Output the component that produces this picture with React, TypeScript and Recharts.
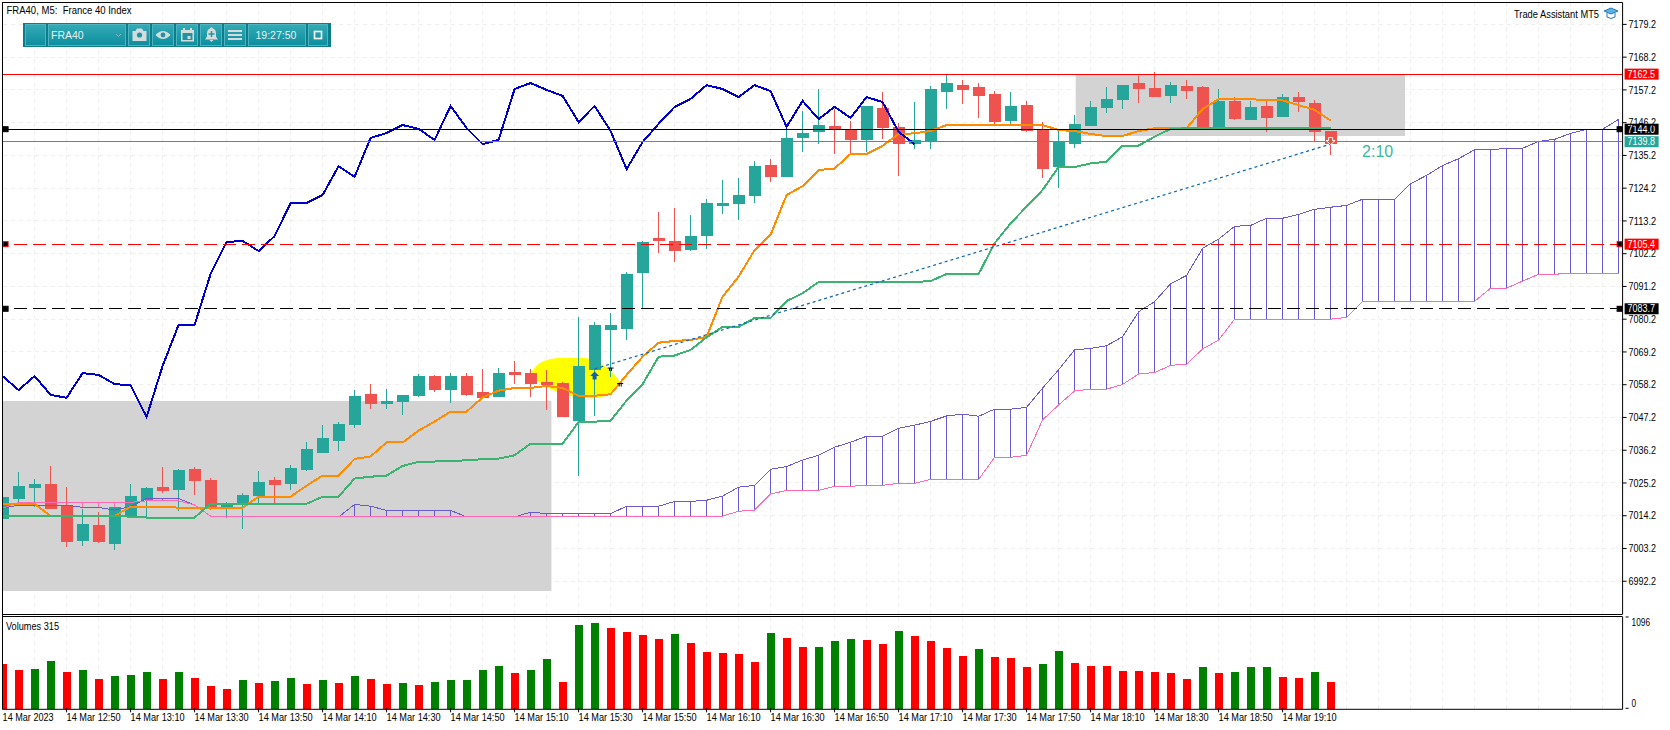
import React from 'react';
import {
    ComposedChart,
    Bar,
    Line,
    XAxis,
    YAxis,
    CartesianGrid,
    ReferenceArea,
    ReferenceDot,
    ReferenceLine
} from 'recharts';

// FRA40 M5 bars, one entry per 5 minutes starting 12:30
const opens = [
    7013.2, 7019.9, 7023.6, 7024.9, 7017.8, 7005.8, 7011.1, 7004.8, 7014.1, 7019.5,
    7023.9, 7022.9, 7029.9, 7026.2, 7017.1, 7018.2, 7020.8, 7026.2, 7024.9, 7029.6,
    7035.3, 7039.3, 7044.7, 7055.1, 7051.7, 7052.4, 7054.4, 7061.1, 7056.4, 7061.1,
    7055.8, 7054.1, 7062.5, 7062.1, 7059.1, 7058.8, 7046.0, 7063.2, 7076.6, 7076.9,
    7095.7, 7107.5, 7106.5, 7103.4, 7108.1, 7118.2, 7118.9, 7121.6, 7132.0, 7128.0,
    7141.1, 7143.1, 7145.1, 7143.7, 7140.4, 7151.1, 7144.8, 7139.0, 7140.0, 7156.5,
    7158.8, 7158.2, 7155.8, 7146.8, 7152.1, 7144.1, 7131.3, 7139.0, 7145.1, 7151.1,
    7153.8, 7159.5, 7157.8, 7155.2, 7158.5, 7158.2, 7144.8, 7153.5, 7147.1, 7151.8,
    7148.1, 7154.8, 7152.8, 7143.4
];
const highs = [
    7021.2, 7028.9, 7026.6, 7030.9, 7024.0, 7016.5, 7015.4, 7017.1, 7024.9, 7024.0,
    7030.4, 7029.8, 7030.6, 7026.9, 7018.8, 7021.9, 7029.2, 7027.2, 7031.2, 7039.0,
    7044.7, 7045.7, 7056.4, 7058.4, 7056.8, 7054.9, 7061.8, 7061.5, 7062.1, 7062.1,
    7063.5, 7063.8, 7066.2, 7063.4, 7063.1, 7059.0, 7080.9, 7079.3, 7082.3, 7096.1,
    7106.5, 7116.2, 7117.6, 7115.2, 7120.6, 7126.9, 7127.6, 7133.3, 7134.0, 7144.4,
    7150.1, 7157.5, 7150.8, 7146.8, 7151.9, 7156.5, 7146.1, 7153.1, 7158.5, 7162.2,
    7160.5, 7159.5, 7156.8, 7156.5, 7153.5, 7146.4, 7143.7, 7148.8, 7153.5, 7158.2,
    7158.9, 7161.9, 7163.2, 7159.9, 7160.5, 7158.5, 7157.5, 7154.8, 7153.5, 7153.8,
    7155.8, 7156.5, 7153.8, 7143.5
];
const lows = [
    7012.8, 7018.4, 7017.3, 7016.4, 7003.8, 7004.2, 7005.2, 7002.8, 7013.3, 7013.0,
    7021.9, 7015.9, 7021.2, 7016.1, 7013.6, 7009.9, 7017.8, 7018.5, 7022.9, 7029.2,
    7035.2, 7036.0, 7043.7, 7050.1, 7050.1, 7048.0, 7054.1, 7055.8, 7052.1, 7054.4,
    7053.4, 7054.0, 7058.4, 7054.1, 7049.7, 7047.3, 7027.6, 7047.7, 7060.8, 7073.2,
    7083.6, 7102.4, 7099.4, 7103.1, 7103.8, 7115.5, 7113.5, 7119.2, 7126.3, 7127.9,
    7136.4, 7139.0, 7135.7, 7135.7, 7136.4, 7140.7, 7128.3, 7137.4, 7137.4, 7150.8,
    7152.5, 7147.8, 7145.8, 7145.8, 7143.1, 7127.6, 7124.3, 7137.7, 7145.0, 7149.5,
    7150.8, 7152.8, 7154.7, 7152.8, 7154.2, 7144.4, 7144.7, 7147.1, 7147.0, 7143.1,
    7148.0, 7149.8, 7140.0, 7135.4
];
const closes = [
    7020.5, 7024.2, 7024.9, 7016.6, 7005.5, 7011.4, 7005.4, 7017.1, 7020.8, 7023.5,
    7022.5, 7029.6, 7025.9, 7017.0, 7018.5, 7021.2, 7025.5, 7024.5, 7030.2, 7036.6,
    7040.3, 7045.0, 7054.4, 7051.7, 7052.7, 7054.8, 7061.1, 7056.4, 7061.1, 7054.8,
    7053.8, 7062.1, 7061.5, 7058.4, 7058.0, 7047.4, 7064.5, 7078.3, 7078.3, 7095.4,
    7106.1, 7106.5, 7103.1, 7108.1, 7119.2, 7119.2, 7121.9, 7131.6, 7128.0, 7141.1,
    7142.7, 7145.4, 7144.1, 7140.4, 7151.8, 7144.4, 7139.0, 7140.4, 7157.5, 7159.5,
    7157.2, 7155.2, 7146.4, 7151.8, 7143.4, 7130.6, 7139.7, 7145.8, 7151.5, 7154.2,
    7158.8, 7157.5, 7154.8, 7158.8, 7156.8, 7144.8, 7153.5, 7147.4, 7151.5, 7147.8,
    7154.8, 7153.1, 7143.1, 7139.0
];

// ichimoku lines
const tenkan = [
    7018.2, 7018.2, 7018.2, 7014.1, 7014.1, 7014.1, 7014.1, 7014.1, 7017.3, 7017.3,
    7017.3, 7016.9, 7016.9, 7016.9, 7016.9, 7016.9, 7020.6, 7020.6, 7020.6, 7024.3,
    7027.7, 7027.7, 7033.3, 7034.1, 7038.8, 7038.8, 7042.8, 7045.8, 7049.2, 7049.2,
    7053.9, 7056.2, 7057.1, 7057.1, 7057.8, 7057.1, 7054.5, 7054.5, 7055.0, 7061.5,
    7067.6, 7072.3, 7072.9, 7073.2, 7074.3, 7087.8, 7094.5, 7103.4, 7108.6, 7121.9,
    7124.9, 7130.3, 7130.8, 7135.7, 7135.7, 7138.4, 7142.4, 7142.6, 7143.4, 7145.4,
    7145.4, 7145.4, 7145.4, 7145.4, 7145.4, 7145.4, 7143.7, 7143.4, 7142.4, 7141.7,
    7141.7, 7143.4, 7144.3, 7144.3, 7144.3, 7150.8, 7154.1, 7154.1, 7154.1, 7153.7,
    7153.7, 7152.1, 7150.5, 7146.9
];
const kijun = [
    7014.1, 7014.1, 7014.1, 7014.1, 7014.1, 7014.1, 7014.1, 7014.1, 7013.9, 7013.6,
    7013.6, 7013.6, 7013.6, 7018.2, 7018.2, 7018.2, 7018.2, 7018.2, 7018.2, 7018.2,
    7020.6, 7020.6, 7026.7, 7027.3, 7027.7, 7030.9, 7032.3, 7032.4, 7032.6, 7032.8,
    7033.2, 7033.4, 7034.5, 7038.4, 7038.4, 7038.4, 7045.7, 7045.8, 7046.1, 7052.9,
    7058.4, 7067.6, 7068.0, 7069.9, 7074.1, 7077.6, 7077.6, 7080.6, 7080.6, 7086.3,
    7088.9, 7092.7, 7092.7, 7092.7, 7092.7, 7092.7, 7092.7, 7092.7, 7093.0, 7095.4,
    7095.4, 7095.4, 7105.7, 7112.4, 7118.0, 7123.6, 7131.3, 7131.3, 7132.5, 7133.1,
    7138.5, 7138.5, 7141.5, 7144.1, 7144.3, 7144.3, 7144.3, 7144.3, 7144.3, 7144.3,
    7144.3, 7144.3, 7144.3, 7144.3
];
const chikou = [
    7061.1, 7056.4, 7061.1, 7054.8, 7053.8, 7062.1, 7061.5, 7058.4, 7058.0, 7047.4,
    7064.5, 7078.3, 7078.3, 7095.4, 7106.1, 7106.5, 7103.1, 7108.1, 7119.2, 7119.2,
    7121.9, 7131.6, 7128.0, 7141.1, 7142.7, 7145.4, 7144.1, 7140.4, 7151.8, 7144.4,
    7139.0, 7140.4, 7157.5, 7159.5, 7157.2, 7155.2, 7146.4, 7151.8, 7143.4, 7130.6,
    7139.7, 7145.8, 7151.5, 7154.2, 7158.8, 7157.5, 7154.8, 7158.8, 7156.8, 7144.8,
    7153.5, 7147.4, 7151.5, 7147.8, 7154.8, 7153.1, 7143.1, 7139.0
];
const senkouA = [
    7016.7, 7017.8, 7017.8, 7017.8, 7017.8, 7017.0, 7017.0, 7016.1, 7017.3, 7020.0,
    7020.0, 7020.0, 7017.8, 7014.1, 7014.1, 7014.1, 7014.1, 7014.1, 7013.8, 7013.8,
    7013.8, 7013.8, 7018.0, 7017.4, 7016.0, 7016.0, 7016.0, 7016.0, 7016.0, 7013.8,
    7013.8, 7013.8, 7013.8, 7015.4, 7014.9, 7014.9, 7014.9, 7014.9, 7014.9, 7017.4,
    7017.4, 7017.4, 7019.0, 7019.0, 7019.4, 7020.8, 7023.8, 7024.4, 7029.8, 7030.7,
    7032.9, 7034.5, 7037.2, 7038.9, 7040.9, 7040.9, 7043.6, 7044.6, 7045.9, 7047.7,
    7048.3, 7047.6, 7050.0, 7050.0, 7050.6, 7057.1, 7063.2, 7069.9, 7070.4, 7071.3,
    7074.3, 7082.7, 7086.1, 7092.1, 7094.9, 7104.0, 7107.1, 7111.4, 7111.7, 7114.1,
    7114.1, 7115.4, 7117.1, 7117.8, 7118.4, 7120.5, 7120.5, 7120.5, 7125.7, 7128.5,
    7131.8, 7134.1, 7137.1, 7137.1, 7137.6, 7137.6, 7139.9, 7140.6, 7142.6, 7144.0,
    7144.0, 7147.3
];
const senkouB = [
    7016.7, 7018.7, 7018.7, 7018.7, 7018.7, 7018.7, 7018.7, 7018.7, 7018.7, 7019.2,
    7019.2, 7019.2, 7017.8, 7014.1, 7014.1, 7014.1, 7014.1, 7014.1, 7014.1, 7014.1,
    7014.1, 7014.1, 7014.1, 7014.1, 7014.1, 7014.1, 7014.1, 7014.1, 7014.1, 7014.1,
    7014.1, 7014.1, 7014.1, 7014.1, 7014.1, 7014.1, 7014.1, 7014.1, 7014.1, 7014.1,
    7014.1, 7014.1, 7014.1, 7014.1, 7014.1, 7014.1, 7015.7, 7016.1, 7021.5, 7022.7,
    7022.7, 7022.7, 7024.1, 7024.1, 7024.4, 7024.4, 7025.1, 7025.1, 7026.4, 7026.4,
    7026.4, 7026.4, 7033.8, 7033.8, 7034.5, 7046.4, 7051.4, 7056.1, 7056.7, 7056.7,
    7058.3, 7061.8, 7062.3, 7064.7, 7065.1, 7070.2, 7073.2, 7080.2, 7080.2, 7080.2,
    7080.2, 7080.2, 7080.2, 7080.2, 7080.8, 7086.2, 7086.2, 7086.2, 7086.2, 7086.2,
    7086.2, 7086.2, 7086.2, 7090.6, 7090.6, 7093.0, 7095.3, 7095.3, 7095.6, 7095.6,
    7095.6, 7095.6
];

const volumes = [
    576, 499, 512, 614, 474, 499, 385, 423, 436, 474,
    385, 474, 398, 296, 258, 372, 334, 360, 398, 322,
    372, 334, 423, 385, 322, 334, 309, 347, 372, 374,
    499, 550, 461, 499, 639, 347, 1071, 1096, 1033, 982,
    944, 893, 956, 842, 728, 715, 703, 601, 969, 906,
    791, 792, 868, 893, 880, 829, 995, 931, 868, 779,
    677, 766, 664, 652, 537, 576, 741, 588, 550, 549,
    487, 486, 474, 461, 385, 537, 461, 474, 537, 538,
    410, 398, 474, 347
];
const volumeUp = [
    0, 0, 1, 1, 0, 1, 0, 1, 1, 1,
    0, 1, 0, 0, 0, 1, 0, 1, 1, 0,
    1, 0, 1, 0, 0, 1, 0, 1, 1, 1,
    1, 1, 0, 1, 1, 0, 1, 1, 0, 0,
    0, 0, 1, 0, 0, 0, 0, 0, 1, 0,
    0, 1, 1, 1, 0, 0, 1, 0, 0, 0,
    0, 1, 0, 0, 0, 1, 1, 0, 0, 0,
    0, 0, 0, 0, 0, 1, 0, 1, 1, 1,
    0, 0, 1, 0
];

const priceTicks = [
    7179.2, 7168.2, 7157.2, 7146.2, 7135.2, 7124.2, 7113.2, 7102.2, 7091.2,
    7080.2, 7069.2, 7058.2, 7047.2, 7036.2, 7025.2, 7014.2, 7003.2, 6992.2
];
const timeTicks = [0, 4, 8, 12, 16, 20, 24, 28, 32, 36, 40, 44, 48, 52, 56, 60, 64, 68, 72, 76, 80];
const timeLabels = [
    '14 Mar 2023', '14 Mar 12:50', '14 Mar 13:10', '14 Mar 13:30', '14 Mar 13:50', '14 Mar 14:10', '14 Mar 14:30',
    '14 Mar 14:50', '14 Mar 15:10', '14 Mar 15:30', '14 Mar 15:50', '14 Mar 16:10', '14 Mar 16:30', '14 Mar 16:50',
    '14 Mar 17:10', '14 Mar 17:30', '14 Mar 17:50', '14 Mar 18:10', '14 Mar 18:30', '14 Mar 18:50', '14 Mar 19:10'
];
const gridBars = [
    2, 4, 6, 8, 10, 12, 14, 16, 18, 20, 22, 24, 26, 28, 30, 32, 34, 36, 38, 40, 42, 44, 46, 48, 50,
    52, 54, 56, 58, 60, 62, 64, 66, 68, 70, 72, 74, 76, 78, 80, 82, 84, 86, 88, 90, 92, 94, 96, 98, 100
];

const chartData = senkouA.map((a, i) => ({
    bar: i,
    range: lows[i] === undefined ? undefined : [lows[i], highs[i]],
    open: opens[i],
    close: closes[i],
    tenkan: tenkan[i],
    kijun: kijun[i],
    chikou: chikou[i],
    senkouA: a,
    senkouB: senkouB[i],
    cloud: [Math.min(a, senkouB[i]), Math.max(a, senkouB[i])],
    volume: volumes[i],
    up: volumeUp[i]
}));

const FONT = '"Liberation Sans", Arial, sans-serif';
const BAR_DOMAIN: [number, number] = [0, 101.25];
const TEAL = '#26a69a';
const RED = '#ef5350';
const CRISP = 'crispEdges';

// the terminal font is narrow, so text is squeezed to the measured width
const Squeezed = ({ x, y, w, fill = '#000', size = 10.4, children }: any) => (
    <text x={x} y={y} fill={fill} fontSize={size} fontFamily={FONT} textLength={w} lengthAdjust="spacingAndGlyphs" xmlSpace="preserve">
        {children}
    </text>
);

const CandleShape = (props: any) => {
    const { x, y, width, height, payload } = props;
    if (payload.open === undefined) return null;
    const { open, close, range } = payload;
    const perUnit = height / (range[1] - range[0] || 1);
    const yOpen = y + (range[1] - open) * perUnit;
    const yClose = y + (range[1] - close) * perUnit;
    const color = close >= open ? TEAL : RED;
    const cx = x + width / 2;
    return (
        <g shapeRendering={CRISP}>
            <line x1={cx} x2={cx} y1={y} y2={y + height} stroke={color} strokeWidth={1} />
            <rect x={x} y={Math.min(yOpen, yClose)} width={width} height={Math.max(Math.abs(yOpen - yClose), 1)} fill={color} />
        </g>
    );
};

const HatchShape = (props: any) => {
    const { x, y, width, height, payload } = props;
    const color = payload.senkouA >= payload.senkouB ? '#6a5acd' : '#ff69b4';
    const cx = x + width / 2;
    return <line x1={cx} x2={cx} y1={y} y2={y + height} stroke={color} strokeWidth={1} shapeRendering={CRISP} />;
};

const VolumeShape = (props: any) => {
    const { x, y, width, height, payload } = props;
    return <rect x={x} y={y} width={width} height={height} fill={payload.up ? '#008000' : '#ff0000'} shapeRendering={CRISP} />;
};

// price box on the right scale plus the little squares on the line ends
const priceTag = (text: string, bg: string, marker?: string) => (props: any) => {
    const { x, y, width } = props.viewBox;
    const right = x + width;
    return (
        <g>
            {marker && <rect x={x + 0.5} y={y - 2.5} width={5} height={5} fill={marker} stroke={bg} />}
            {marker && <rect x={right - 5.5} y={y - 2.5} width={5} height={5} fill={marker} stroke={bg} />}
            <rect x={right + 2} y={y - 5.5} width={34} height={11} fill={bg} />
            <Squeezed x={right + 5} y={y + 3.7} w={27.5} fill="#fff">{text}</Squeezed>
        </g>
    );
};

const PriceTick = (props: any) => {
    const { x, y, payload } = props;
    return <Squeezed x={x + 1} y={y + 3.7} w={27.5}>{payload.value.toFixed(1)}</Squeezed>;
};

const BlobMark = (props: any) => {
    const { x, y, width: w, height: h } = props;
    const p = (px: number, py: number) => `${x + px * w} ${y + py * h}`;
    const d = `M${p(0, 0.32)} C${p(0.08, 0.05)} ${p(0.2, 0)} ${p(0.35, 0)} L${p(0.6, 0)} C${p(0.8, 0.05)} ${p(0.95, 0.4)} ${p(1, 0.6)}`
        + ` C${p(0.95, 0.85)} ${p(0.8, 1)} ${p(0.68, 0.98)} C${p(0.5, 1)} ${p(0.25, 0.85)} ${p(0.1, 0.62)} C${p(0.03, 0.52)} ${p(0, 0.42)} ${p(0, 0.32)} Z`;
    return <path d={d} fill="#ffff00" />;
};

const UpArrow = (props: any) => (
    <path d={`M${props.cx} ${props.cy - 4.5} l4.5 4.5 h-2.5 v3.5 h-4 v-3.5 h-2.5 z`} fill="#0a64b4" />
);

const DownArrow = (props: any) => (
    <path d={`M${props.cx} ${props.cy + 4} l-4.5 -4 h2.5 v-3 h4 v3 h2.5 z`} fill="#e8502a" stroke="#fff" strokeWidth={1} />
);

const TradeTick = (props: any) => (
    <path d={`M${props.cx - 3} ${props.cy} h6 M${props.cx - 1} ${props.cy} v3 M${props.cx + 1} ${props.cy} v3`} stroke="#000" fill="none" />
);

const VolumeTick = (props: any) => {
    const { x, y, payload } = props;
    const zero = payload.value === 0;
    return (
        <g>
            <line x1={x - 5} x2={x - 2} y1={zero ? y - 1 : y - 6} y2={zero ? y - 1 : y - 6} stroke="#000" />
            <Squeezed x={x + 1} y={zero ? y - 2 : y + 3.2} w={zero ? 4.6 : 18.5}>{payload.value}</Squeezed>
        </g>
    );
};

const TimeTick = (props: any) => {
    const { x, y, payload } = props;
    const label = timeLabels[timeTicks.indexOf(payload.value)];
    return (
        <g>
            {payload.value > 0 && <line x1={x} x2={x} y1={y - 9} y2={y - 5} stroke="#000" />}
            <Squeezed x={x} y={y + 4} w={payload.value === 0 ? 51 : 54}>{label}</Squeezed>
        </g>
    );
};

const toolCells = [
    { x: 25, w: 21 }, { x: 48, w: 78 }, { x: 128, w: 22 }, { x: 152, w: 22 },
    { x: 176, w: 22 }, { x: 200, w: 22 }, { x: 224, w: 22 }, { x: 248, w: 58 }, { x: 308, w: 20 }
];

const Toolbar: React.FC = () => (
    <svg style={{ position: 'absolute', left: 23, top: 23, pointerEvents: 'none' }} width={308} height={24} fontFamily={FONT}>
        <defs>
            <linearGradient id="tb" x1="0" y1="0" x2="0" y2="1">
                <stop offset="0" stopColor="#35aab6" />
                <stop offset="1" stopColor="#0c8e9e" />
            </linearGradient>
        </defs>
        <rect width={308} height={24} fill="#0f7c8a" />
        {toolCells.map((c) => (
            <rect key={c.x} x={c.x - 23 + 0.5} y={1.5} width={c.w - 1} height={21} fill="url(#tb)" stroke="#4db5c0" />
        ))}
        <text x={28} y={16} fill="#e4f2f3" fontSize={10.5}>FRA40</text>
        <path d="M93 11 l2.5 2.5 l2.5 -2.5" fill="none" stroke="#7fbcc4" />
        <g fill="#d4dcdc">
            <path d="M109.5 8 h3 l1.5 -2.5 h5 l1.5 2.5 h3 v10 h-14 z" />
            <path d="M132.5 12 q7.5 -8 15 0 q-7.5 8 -15 0 z" />
            <path d="M158 7 h2 v-2 h2 v2 h5 v-2 h2 v2 h2 v11.5 h-13 z" />
            <path d="M188.5 4 l1.5 1.5 q3 1 3 5 v3 l2 3 h-13 l2 -3 v-3 q0 -4 3 -5 z M186.5 17 h4 l-2 2 z" />
            <rect x={205} y={7} width={14} height={2} />
            <rect x={205} y={11} width={14} height={2} />
            <rect x={205} y={15} width={14} height={2} />
        </g>
        <circle cx={116.5} cy={12} r={2.6} fill="#1f95a3" />
        <circle cx={140} cy={12} r={2.4} fill="#1f95a3" />
        <rect x={159.5} y={10} width={10} height={7} fill="#1f95a3" />
        <rect x={164.5} y={13} width={3} height={3} fill="#d4dcdc" />
        <path d="M188.5 8 v6 M185.5 11 h6" stroke="#1f95a3" strokeWidth={1.5} />
        <text x={232.5} y={16} fill="#e4f2f3" fontSize={10.5}>19:27:50</text>
        <rect x={291.5} y={8.5} width={7} height={7} fill="none" stroke="#fff" strokeWidth={1.6} />
    </svg>
);

const App: React.FC = () => {
    return (
        <div style={{ position: 'absolute', left: 0, top: 0, width: 1670, height: 730, background: '#fff', overflow: 'hidden' }}>
            <div style={{ position: 'absolute', left: 0, top: 0 }}>
                <ComposedChart
                    width={1670}
                    height={615}
                    data={chartData}
                    margin={{ top: 2.5, right: 0, left: 2.6, bottom: 0.7 }}
                >
                    <XAxis dataKey="bar" type="number" domain={BAR_DOMAIN} allowDataOverflow hide />
                    {/* own axis so the cloud hatching does not sit beside the candles */}
                    <XAxis xAxisId="cloud" dataKey="bar" type="number" domain={BAR_DOMAIN} allowDataOverflow hide />
                    <YAxis
                        orientation="right"
                        width={47.4}
                        domain={[6981.1, 7186.55]}
                        allowDataOverflow
                        ticks={priceTicks}
                        interval={0}
                        tick={PriceTick}
                        tickSize={4}
                        tickMargin={1}
                        axisLine={{ stroke: '#000' }}
                        tickLine={{ stroke: '#000' }}
                    />
                    <ReferenceArea x1={33.1} x2={38.6} y1={7053.4} y2={7067.2} shape={BlobMark} />
                    <ReferenceArea x1={0} x2={34.3} y1={6988.9} y2={7052.7} fill="#d3d3d3" fillOpacity={1} stroke="none" />
                    <ReferenceArea x1={67.07} x2={87.65} y1={7141.7} y2={7162.3} fill="#d3d3d3" fillOpacity={1} stroke="none" />
                    <CartesianGrid stroke="#eeeeee" strokeDasharray="4 4" verticalValues={gridBars} horizontalValues={priceTicks} shapeRendering={CRISP} />

                    <Bar xAxisId="cloud" dataKey="cloud" barSize={2} shape={HatchShape} isAnimationActive={false} />
                    <Line dataKey="senkouA" stroke="#6a5acd" strokeWidth={1} dot={false} isAnimationActive={false} shapeRendering={CRISP} />
                    <Line dataKey="senkouB" stroke="#ff69b4" strokeWidth={1} dot={false} isAnimationActive={false} shapeRendering={CRISP} />

                    <Bar dataKey="range" barSize={12} shape={CandleShape} isAnimationActive={false} />

                    <Line dataKey="tenkan" stroke="#ff8c00" strokeWidth={2} dot={false} isAnimationActive={false} shapeRendering={CRISP} />
                    <Line dataKey="kijun" stroke="#3cb371" strokeWidth={2} dot={false} isAnimationActive={false} shapeRendering={CRISP} />
                    <Line dataKey="chikou" stroke="#0000cd" strokeWidth={2} dot={false} isAnimationActive={false} shapeRendering={CRISP} />

                    <ReferenceLine
                        segment={[{ x: 37, y: 7063.5 }, { x: 83, y: 7139 }]}
                        stroke="#0a64b4"
                        strokeDasharray="3 3"
                        strokeWidth={1.2}
                    />
                    <ReferenceLine y={7162.5} stroke="#ff0000" shapeRendering={CRISP} label={{ content: priceTag('7162.5', '#ff0000') }} />
                    <ReferenceLine y={7144} stroke="#000" shapeRendering={CRISP} label={{ content: priceTag('7144.0', '#000', '#000') }} />
                    <ReferenceLine y={7139.8} stroke={TEAL} shapeRendering={CRISP} label={{ content: priceTag('7139.8', TEAL) }} />
                    <ReferenceLine y={7105.4} stroke="#ff0000" strokeDasharray="13 6" shapeRendering={CRISP} label={{ content: priceTag('7105.4', '#ff0000', '#000') }} />
                    <ReferenceLine y={7083.7} stroke="#000" strokeDasharray="13 6" shapeRendering={CRISP} label={{ content: priceTag('7083.7', '#000', '#000') }} />

                    <ReferenceDot x={37} y={7061.1} r={1} shape={UpArrow} />
                    <ReferenceDot x={38} y={7063.8} r={1} shape={TradeTick} />
                    <ReferenceDot x={38.6} y={7058.6} r={1} shape={TradeTick} />
                    <ReferenceDot x={83} y={7140.2} r={1} shape={DownArrow} />
                    <ReferenceDot
                        x={85.94}
                        y={7136.7}
                        r={0}
                        fill="none"
                        stroke="none"
                        label={{ value: '2:10', fill: '#3db89a', fontSize: 16, fontFamily: FONT, position: 'center' }}
                    />
                </ComposedChart>
            </div>

            <div style={{ position: 'absolute', left: 0, top: 615 }}>
                <ComposedChart
                    width={1670}
                    height={115}
                    data={chartData}
                    margin={{ top: 1.7, right: 0, left: 2.6, bottom: 0 }}
                >
                    <XAxis
                        dataKey="bar"
                        type="number"
                        domain={BAR_DOMAIN}
                        allowDataOverflow
                        ticks={timeTicks}
                        interval={0}
                        height={20.7}
                        tickLine={false}
                        axisLine={{ stroke: '#000' }}
                        tick={TimeTick}
                    />
                    <YAxis
                        orientation="right"
                        width={47.4}
                        domain={[0, 1176]}
                        allowDataOverflow
                        ticks={[0, 1096]}
                        interval={0}
                        tick={VolumeTick}
                        tickLine={false}
                        axisLine={{ stroke: '#000' }}
                    />
                    <CartesianGrid stroke="#eeeeee" strokeDasharray="4 4" verticalValues={gridBars} horizontal={false} shapeRendering={CRISP} />
                    <Bar dataKey="volume" barSize={8} shape={VolumeShape} isAnimationActive={false} />
                </ComposedChart>
            </div>

            {/* pane frame and the captions */}
            <svg style={{ position: 'absolute', left: 0, top: 0, pointerEvents: 'none' }} width={1670} height={730}>
                <line x1={2.5} x2={1622.5} y1={2.5} y2={2.5} stroke="#000" />
                <line x1={2.5} x2={2.5} y1={2} y2={709.5} stroke="#000" />
                <line x1={2.5} x2={1622.5} y1={614.5} y2={614.5} stroke="#000" />
                <line x1={2.5} x2={1622.5} y1={616.5} y2={616.5} stroke="#000" />
                <Squeezed x={6.5} y={13.5} w={125}>{'FRA40, M5:  France 40 Index'}</Squeezed>
                <Squeezed x={6} y={629.5} w={53}>Volumes 315</Squeezed>
                <Squeezed x={1514} y={17.5} w={85}>Trade Assistant MT5</Squeezed>
                <path d="M1604 11 L1611 8 L1618 11 L1611 14 Z" fill="#5bb4e8" stroke="#1f78b4" />
                <path d="M1607 13 v4 q4 3 8 0 v-4" fill="none" stroke="#1f78b4" />
            </svg>

            <Toolbar />
        </div>
    );
};

export default App;
